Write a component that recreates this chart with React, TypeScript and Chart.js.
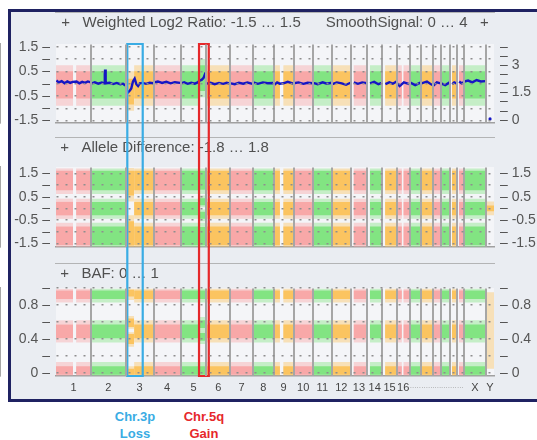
import React, { useEffect, useRef } from 'react';
import { Chart, registerables } from 'chart.js';

Chart.register(...registerables);

const FONT = '"Liberation Sans", Arial, Helvetica, sans-serif';

// ---------------- data ----------------
const CHROMOSOMES = ['1', '2', '3', '4', '5', '6', '7', '8', '9', '10', '11', '12', '13', '14', '15', '16', '17', '18', '19', '20', '21', '22', 'X', 'Y'];
const CHROM_SIZES_MB = [249, 243, 198, 191, 181, 171, 159, 146, 141, 136, 135, 134, 115, 107, 103, 90, 83, 80, 59, 64, 47, 51, 156, 57];
const CHROM_AXIS_LABELS = ['1', '2', '3', '4', '5', '6', '7', '8', '9', '10', '11', '12', '13', '14', '15', '16', '.....', '.....', '....', '....', '...', '...', 'X', 'Y'];
const CHROM_COLORS = ['pink', 'green', 'orange', 'pink', 'green', 'orange', 'pink', 'green', 'orange', 'pink', 'green', 'orange', 'pink', 'green', 'orange', 'pink', 'green', 'orange', 'pink', 'green', 'orange', 'pink', 'green', 'orange'];

// covered regions per chromosome: [startMb, endMb, state]
const CHROM_SEGMENTS: [number, number, string][][] = [
  [[0, 121, 'n'], [142, 249, 'n']],
  [[0, 243, 'n']],
  [[0, 60, 'loss'], [60, 198, 'n']],
  [[0, 191, 'n']],
  [[0, 128, 'n'], [128, 181, 'gain']],
  [[0, 171, 'n']],
  [[0, 159, 'n']],
  [[0, 146, 'n']],
  [[0, 45, 'n'], [68, 141, 'n']],
  [[0, 136, 'n']],
  [[0, 135, 'n']],
  [[0, 134, 'n']],
  [[19, 115, 'n']],
  [[19, 107, 'n']],
  [[20, 103, 'n']],
  [[0, 36, 'n'], [46, 90, 'n']],
  [[0, 83, 'n']],
  [[0, 80, 'n']],
  [[0, 59, 'n']],
  [[0, 64, 'n']],
  [[14, 47, 'n']],
  [[16, 51, 'n']],
  [[0, 156, 'n']],
  [[2, 57, 'y']],
];

// bands: [outerLow, innerLow, innerHigh, outerHigh]
const LOG2_BANDS: Record<string, number[][]> = {
  n: [[-0.9, -0.6, 0.5, 0.75]],
  loss: [[-1.1, -0.85, 0.2, 0.5]],
  gain: [[-0.55, -0.3, 0.75, 1.0]],
  y: [],
};
const ALLELE_BANDS: Record<string, number[][]> = {
  n: [[0.62, 0.78, 1.62, 1.72], [-0.45, -0.3, 0.28, 0.42], [-1.66, -1.58, -0.78, -0.62]],
  loss: [[0.3, 0.55, 1.62, 1.74], [-1.66, -1.6, -0.55, -0.3]],
  gain: [[0.62, 0.8, 1.62, 1.72], [0.05, 0.14, 0.44, 0.55], [-0.55, -0.44, -0.14, -0.05], [-1.66, -1.58, -0.8, -0.62]],
  y: [[-0.3, -0.12, 0.12, 0.3]],
};
const BAF_BANDS: Record<string, number[][]> = {
  n: [[0.83, 0.87, 0.97, 0.99], [0.36, 0.41, 0.57, 0.62], [-0.03, -0.02, 0.08, 0.13]],
  loss: [[0.86, 0.9, 0.98, 0.99], [0.52, 0.54, 0.64, 0.67], [0.31, 0.34, 0.46, 0.48], [-0.03, -0.02, 0.05, 0.08]],
  gain: [[0.83, 0.87, 0.97, 0.99], [0.5, 0.53, 0.62, 0.66], [0.34, 0.38, 0.47, 0.5], [-0.03, -0.02, 0.08, 0.13]],
  y: [[0.05, 0.5, 0.5, 0.95]],
};

// smooth signal (copy number) per chromosome: [positionMb, value]
const SMOOTH_SIGNAL: [number, number][][] = [
  [[3, 2.15], [20, 2.05], [40, 2.12], [60, 2.0], [80, 2.1], [100, 2.02], [118, 2.08], [145, 2.1], [165, 2.0], [185, 2.08], [205, 2.02], [225, 2.1], [246, 2.05]],
  [[3, 2.0], [25, 2.05], [50, 1.98], [75, 2.04], [92, 2.0], [96, 2.5], [98, 2.75], [100, 2.2], [104, 2.0], [130, 2.03], [155, 1.96], [180, 2.02], [205, 1.95], [225, 1.98], [240, 1.88]],
  [[2, 1.45], [17, 1.5], [30, 1.6], [40, 1.72], [52, 2.1], [64, 2.25], [76, 1.95], [88, 1.85], [100, 2.0], [120, 2.02], [145, 1.97], [170, 2.03], [196, 2.0]],
  [[3, 2.05], [30, 2.1], [60, 2.02], [90, 2.08], [120, 2.0], [150, 2.06], [188, 2.02]],
  [[3, 2.0], [25, 2.05], [50, 1.97], [75, 2.03], [100, 1.98], [120, 2.05], [135, 2.15], [150, 2.2], [162, 2.3], [172, 2.5], [179, 2.45]],
  [[3, 1.98], [30, 2.03], [60, 1.95], [90, 2.02], [120, 1.97], [145, 2.03], [168, 1.98]],
  [[3, 2.0], [30, 1.95], [60, 2.03], [90, 1.98], [120, 2.04], [157, 1.97]],
  [[3, 2.05], [35, 1.97], [70, 2.05], [105, 2.0], [144, 2.02]],
  [[3, 1.9], [25, 2.05], [43, 1.98], [70, 2.0], [100, 2.08], [139, 1.98]],
  [[3, 2.0], [35, 2.05], [70, 1.97], [100, 2.03], [134, 2.0]],
  [[3, 2.02], [35, 1.95], [70, 2.05], [100, 1.98], [133, 2.03]],
  [[3, 1.95], [35, 2.05], [70, 2.0], [100, 1.92], [132, 2.03]],
  [[21, 2.05], [50, 1.97], [80, 2.05], [113, 2.0]],
  [[21, 2.0], [50, 2.08], [80, 1.95], [105, 2.02]],
  [[22, 1.95], [50, 2.05], [75, 1.98], [101, 2.1]],
  [[2, 2.0], [20, 1.85], [50, 2.05], [88, 1.95]],
  [[2, 2.05], [40, 1.9], [81, 2.05]],
  [[2, 2.0], [40, 2.1], [78, 1.9]],
  [[2, 1.85], [30, 2.05], [57, 2.0]],
  [[2, 2.0], [30, 1.9], [62, 2.05]],
  [[16, 1.95], [30, 2.05], [45, 2.0]],
  [[18, 2.1], [35, 2.0], [49, 2.05]],
  [[3, 2.1], [30, 2.15], [60, 2.05], [90, 2.18], [120, 2.1], [153, 2.12]],
  [[29, 0.05]],
];

const LOG2_TICKS = [-1.5, -1, -0.5, 0, 0.5, 1, 1.5];
const LOG2_LABELED = [-1.5, -0.5, 0.5, 1.5];
const SMOOTH_TICKS = [0, 0.5, 1, 1.5, 2, 2.5, 3, 3.5, 4];
const SMOOTH_LABELED = [0, 1.5, 3];
const ALLELE_TICKS = [-1.5, -1, -0.5, 0, 0.5, 1, 1.5];
const ALLELE_LABELED = [-1.5, -0.5, 0.5, 1.5];
const BAF_TICKS = [0, 0.2, 0.4, 0.6, 0.8, 1.0];
const BAF_LABELED = [0, 0.4, 0.8];

const HIGHLIGHTS = [
  { lines: ['Chr.3p', 'Loss'], chrom: '3', from: 12, to: 121, color: '#3aace4' },
  { lines: ['Chr.5q', 'Gain'], chrom: '5', from: 130, to: 199, color: '#e6282b' },
];

// ---------------- derived ----------------
const PALETTE: Record<string, string> = { pink: '248,168,168', green: '130,228,130', orange: '251,196,96' };
const CHROM_OFFSETS: number[] = [];
let acc = 0;
CHROM_SIZES_MB.forEach((s) => { CHROM_OFFSETS.push(acc); acc += s; });
const TOTAL = acc;
const CHROM_CENTERS = CHROM_SIZES_MB.map((s, i) => CHROM_OFFSETS[i] + s / 2);
const BOUNDARIES = CHROM_OFFSETS.slice(1);

const PLOT_LEFT = 56;
const PLOT_RIGHT = 494;
const CANVAS_W = 545;

function bandDatasets(bands: Record<string, number[][]>) {
  const out: any[] = [];
  CHROM_SEGMENTS.forEach((segs, ci) => {
    const rgb = PALETTE[CHROM_COLORS[ci]];
    segs.forEach(([s, e, state]) => {
      const x0 = CHROM_OFFSETS[ci] + s;
      const x1 = CHROM_OFFSETS[ci] + e;
      (bands[state] || []).forEach(([olo, ilo, ihi, ohi]) => {
        const base = { type: 'line', xAxisID: 'x', yAxisID: 'y', borderWidth: 0, borderColor: 'rgba(0,0,0,0)', pointRadius: 0 };
        out.push({ ...base, data: [{ x: x0, y: ohi }, { x: x1, y: ohi }], fill: { value: olo }, backgroundColor: `rgba(${rgb},0.42)`, order: 4 });
        if (ihi > ilo) {
          out.push({ ...base, data: [{ x: x0, y: ihi }, { x: x1, y: ihi }], fill: { value: ilo }, backgroundColor: `rgb(${rgb})`, order: 3 });
        }
      });
    });
  });
  return out;
}

function boxDatasets(kind: 'top' | 'mid' | 'bottom', yMin: number, yMax: number) {
  return HIGHLIGHTS.map((h) => {
    const ci = CHROMOSOMES.indexOf(h.chrom);
    const b0 = CHROM_OFFSETS[ci] + h.from;
    const b1 = CHROM_OFFSETS[ci] + h.to;
    let data;
    if (kind === 'top') data = [{ x: b0, y: -60 }, { x: b0, y: yMax }, { x: b1, y: yMax }, { x: b1, y: -60 }];
    else if (kind === 'mid') data = [{ x: b0, y: 60 }, { x: b0, y: -60 }, { x: b1, y: -60 }, { x: b1, y: 60 }];
    else data = [{ x: b0, y: 60 }, { x: b0, y: yMin }, { x: b1, y: yMin }, { x: b1, y: 60 }];
    return { type: 'line', xAxisID: 'x', yAxisID: 'y', data, borderColor: h.color, borderWidth: 2.2, pointRadius: 0, fill: false, clip: false, order: 0, borderJoinStyle: 'miter' };
  });
}

function smoothDatasets() {
  const line: any[] = [];
  SMOOTH_SIGNAL.forEach((pts, ci) => {
    if (pts.length < 2) return;
    pts.forEach(([p, v]) => line.push({ x: CHROM_OFFSETS[ci] + p, y: v }));
    line.push({ x: CHROM_OFFSETS[ci] + CHROM_SIZES_MB[ci], y: null });
  });
  const single: any[] = [];
  SMOOTH_SIGNAL.forEach((pts, ci) => {
    if (pts.length === 1) single.push({ x: CHROM_OFFSETS[ci] + pts[0][0], y: pts[0][1] });
  });
  return [
    { type: 'line', xAxisID: 'x', yAxisID: 'yR', data: line, borderColor: '#1616c4', borderWidth: 2.4, pointRadius: 0, spanGaps: false, fill: false, order: 1, tension: 0 },
    { type: 'line', xAxisID: 'x', yAxisID: 'yR', data: single, showLine: false, pointRadius: 1.6, pointBackgroundColor: '#1616c4', pointBorderWidth: 0, fill: false, order: 1 },
  ];
}

const plotBg = {
  id: 'plotBg',
  beforeDraw(chart: any) {
    const { ctx, chartArea: a } = chart;
    ctx.save();
    ctx.fillStyle = '#f4f5f8';
    ctx.fillRect(a.left, a.top, a.right - a.left, a.bottom - a.top);
    ctx.restore();
  },
};

function yAxis(position: 'left' | 'right', min: number, max: number, ticks: number[], labeled: number[], showGrid: boolean) {
  return {
    type: 'linear',
    position,
    min,
    max,
    afterBuildTicks: (a: any) => { a.ticks = ticks.map((v) => ({ value: v })); },
    afterFit: (a: any) => { a.width = position === 'left' ? PLOT_LEFT : CANVAS_W - PLOT_RIGHT; },
    ticks: {
      autoSkip: false,
      padding: 6,
      color: '#555',
      font: { family: FONT, size: 14 },
      callback: (v: number) => {
        const lab = labeled.includes(v);
        if (position === 'left') return lab ? `${v} –` : '–';
        return lab ? `– ${v}` : '–';
      },
    },
    grid: { display: showGrid, drawTicks: false, color: '#8e8e8e', lineWidth: 1.4, z: 1 },
    border: { display: true, color: '#a0a0a0', width: 1.5, dash: [2, 7] },
  };
}

interface PanelCfg {
  kind: 'top' | 'mid' | 'bottom';
  height: number;
  top: number;
  title: string;
  align: 'center' | 'start';
  titlePad: { top: number; bottom: number };
  bottomPad: number;
  xHeight: number;
  showX: boolean;
  yMin: number;
  yMax: number;
  ticks: number[];
  labeled: number[];
  bands: Record<string, number[][]>;
  right: { min: number; max: number; ticks: number[]; labeled: number[] };
  smooth: boolean;
}

function makeConfig(p: PanelCfg): any {
  const datasets = [
    ...bandDatasets(p.bands),
    ...(p.smooth ? smoothDatasets() : []),
    ...boxDatasets(p.kind, p.yMin, p.yMax),
  ];
  return {
    type: 'line',
    data: { datasets },
    plugins: [plotBg],
    options: {
      animation: false,
      responsive: false,
      devicePixelRatio: 1,
      events: [],
      layout: { padding: { left: 0, right: 0, top: 0, bottom: p.bottomPad } },
      plugins: {
        legend: { display: false },
        tooltip: { enabled: false },
        title: {
          display: true,
          text: p.title,
          align: p.align,
          fullSize: false,
          color: '#505050',
          font: { family: FONT, size: 15, weight: 'normal' },
          padding: p.titlePad,
        },
      },
      scales: {
        x: {
          type: 'linear',
          position: 'bottom',
          min: 0,
          max: TOTAL,
          afterBuildTicks: (a: any) => { a.ticks = CHROM_CENTERS.map((v) => ({ value: v })); },
          afterFit: (a: any) => { a.height = p.xHeight; },
          grid: { display: false, drawTicks: false },
          border: { display: true, color: '#a0a0a0', width: 1.5 },
          ticks: {
            display: p.showX,
            autoSkip: false,
            maxRotation: 0,
            minRotation: 0,
            padding: 5,
            callback: (_v: number, i: number) => CHROM_AXIS_LABELS[i],
            color: (ctx: any) => (ctx.index >= 16 && ctx.index <= 21 ? '#9a9a9a' : '#444'),
            font: (ctx: any) => ({ family: FONT, size: ctx.index >= 16 && ctx.index <= 21 ? 8 : 11 }),
          },
        },
        xb: {
          type: 'linear',
          position: 'top',
          min: 0,
          max: TOTAL,
          afterBuildTicks: (a: any) => { a.ticks = BOUNDARIES.map((v) => ({ value: v })); },
          afterFit: (a: any) => { a.height = 0; },
          grid: { display: true, drawTicks: false, color: '#a6a6a6', lineWidth: 2, z: 1 },
          border: { display: true, color: '#a0a0a0', width: 1.5 },
          ticks: { display: false },
        },
        y: yAxis('left', p.yMin, p.yMax, p.ticks, p.labeled, true),
        yR: yAxis('right', p.right.min, p.right.max, p.right.ticks, p.right.labeled, false),
      },
    },
  };
}

const PANELS: PanelCfg[] = [
  {
    kind: 'top', top: 12, height: 125,
    title: '+   Weighted Log2 Ratio: -1.5 … 1.5      SmoothSignal: 0 … 4   +',
    align: 'center', titlePad: { top: 2, bottom: 12 }, bottomPad: 7, xHeight: 0, showX: false,
    yMin: -1.58, yMax: 1.61, ticks: LOG2_TICKS, labeled: LOG2_LABELED, bands: LOG2_BANDS,
    right: { min: -0.15, max: 4.15, ticks: SMOOTH_TICKS, labeled: SMOOTH_LABELED }, smooth: true,
  },
  {
    kind: 'mid', top: 137, height: 126,
    title: ' +   Allele Difference: -1.8 … 1.8',
    align: 'start', titlePad: { top: 2.2, bottom: 9.8 }, bottomPad: 16, xHeight: 0, showX: false,
    yMin: -1.66, yMax: 1.78, ticks: ALLELE_TICKS, labeled: ALLELE_LABELED, bands: ALLELE_BANDS,
    right: { min: -1.66, max: 1.78, ticks: ALLELE_TICKS, labeled: ALLELE_LABELED }, smooth: false,
  },
  {
    kind: 'bottom', top: 263, height: 135,
    title: ' +   BAF: 0 … 1',
    align: 'start', titlePad: { top: 2, bottom: 5 }, bottomPad: 0, xHeight: 22, showX: true,
    yMin: -0.035, yMax: 1.0, ticks: BAF_TICKS, labeled: BAF_LABELED, bands: BAF_BANDS,
    right: { min: -0.035, max: 1.0, ticks: BAF_TICKS, labeled: BAF_LABELED }, smooth: false,
  },
];

function Panel({ cfg }: { cfg: PanelCfg }) {
  const ref = useRef<HTMLCanvasElement>(null);
  useEffect(() => {
    const chart = new Chart(ref.current as HTMLCanvasElement, makeConfig(cfg));
    return () => chart.destroy();
  }, [cfg]);
  return (
    <canvas
      ref={ref}
      width={CANVAS_W}
      height={cfg.height}
      style={{ position: 'absolute', left: 0, top: cfg.top, width: CANVAS_W, height: cfg.height }}
    />
  );
}

export default function App() {
  const pxPerMb = (PLOT_RIGHT - PLOT_LEFT) / TOTAL;
  return (
    <div style={{ position: 'fixed', left: 0, top: 0, width: 537, height: 440, overflow: 'hidden', background: '#ffffff', fontFamily: FONT }}>
      <div
        style={{
          position: 'absolute', left: 8, top: 9, width: 545, height: 393, boxSizing: 'border-box',
          border: '3px solid #1f2262', background: '#eaedf2',
        }}
      />
      {PANELS.map((p) => (
        <Panel key={p.kind} cfg={p} />
      ))}
      {HIGHLIGHTS.map((h) => {
        const ci = CHROMOSOMES.indexOf(h.chrom);
        const mid = CHROM_OFFSETS[ci] + (h.from + h.to) / 2;
        const cx = PLOT_LEFT + mid * pxPerMb;
        return (
          <div
            key={h.lines[0]}
            style={{
              position: 'absolute', left: cx - 45, top: 408, width: 90, textAlign: 'center',
              color: h.color, fontFamily: FONT, fontWeight: 'bold', fontSize: 13, lineHeight: '17px',
            }}
          >
            {h.lines[0]}
            <br />
            {h.lines[1]}
          </div>
        );
      })}
    </div>
  );
}
